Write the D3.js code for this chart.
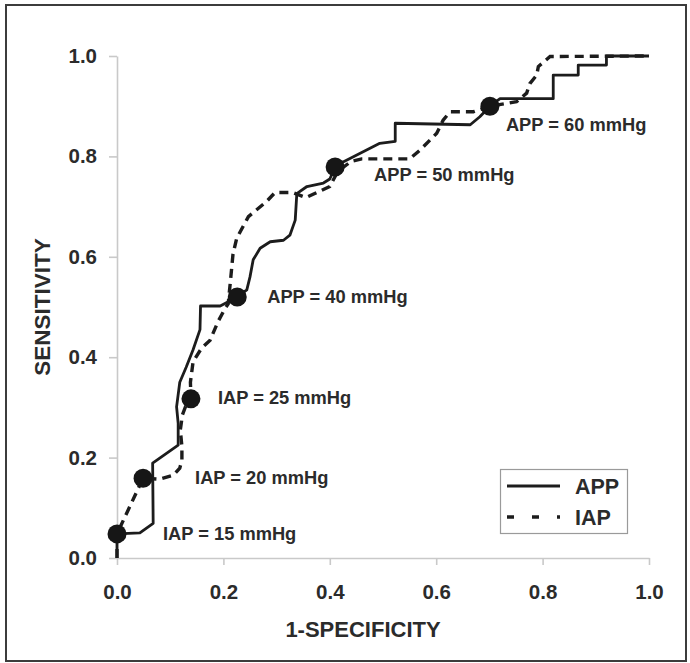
<!DOCTYPE html>
<html>
<head>
<meta charset="utf-8">
<script src="https://cdn.jsdelivr.net/npm/d3@7"></script>
<style>
  html, body { margin: 0; padding: 0; background: #fff; }
  svg { display: block; }
  text { font-family: "Liberation Sans", Arial, Helvetica, sans-serif; fill: #2b2b2b; }
</style>
</head>
<body>
<svg id="chart" width="690" height="663"></svg>
<script>
// ROC curves: 1-specificity (x) vs sensitivity (y)
const appCurve = [
  [0, 0], [0, 0.048], [0.043, 0.05], [0.068, 0.069], [0.067, 0.189],
  [0.115, 0.225], [0.115, 0.268], [0.112, 0.301], [0.118, 0.35],
  [0.13, 0.38], [0.143, 0.415], [0.156, 0.455], [0.157, 0.502],
  [0.194, 0.502], [0.226, 0.52], [0.244, 0.534], [0.25, 0.56],
  [0.256, 0.594], [0.269, 0.617], [0.288, 0.63], [0.313, 0.633],
  [0.325, 0.643], [0.335, 0.673], [0.338, 0.726], [0.357, 0.74],
  [0.388, 0.747], [0.40, 0.755], [0.41, 0.779], [0.425, 0.789],
  [0.494, 0.826], [0.523, 0.83], [0.523, 0.866], [0.664, 0.863],
  [0.682, 0.879], [0.701, 0.9], [0.72, 0.915], [0.82, 0.915],
  [0.82, 0.962], [0.867, 0.962], [0.867, 0.982], [0.92, 0.982],
  [0.92, 1.0], [1.0, 1.0]
];

const iapCurve = [
  [0, 0], [0, 0.048], [0.049, 0.159], [0.08, 0.157], [0.106, 0.165],
  [0.118, 0.179], [0.122, 0.195], [0.122, 0.222], [0.119, 0.255],
  [0.123, 0.285], [0.13, 0.305], [0.139, 0.317], [0.138, 0.35],
  [0.143, 0.391], [0.159, 0.418], [0.175, 0.434], [0.19, 0.471],
  [0.203, 0.497], [0.209, 0.506], [0.214, 0.56], [0.218, 0.605],
  [0.225, 0.637], [0.247, 0.68], [0.281, 0.71], [0.297, 0.728],
  [0.33, 0.728], [0.355, 0.718], [0.40, 0.74], [0.415, 0.77],
  [0.44, 0.79], [0.46, 0.795], [0.55, 0.795], [0.57, 0.813],
  [0.601, 0.846], [0.613, 0.872], [0.626, 0.889], [0.67, 0.889],
  [0.701, 0.9], [0.751, 0.909], [0.77, 0.926], [0.776, 0.945],
  [0.789, 0.962], [0.792, 0.979], [0.814, 0.999], [1.0, 1.0]
];

// Highlighted cut-off points
const cutoffLabels = ["IAP = 15 mmHg", "IAP = 20 mmHg", "IAP = 25 mmHg",
                      "APP = 40 mmHg", "APP = 50 mmHg", "APP = 60 mmHg"];
const cutoffFpr = [0, 0.049, 0.139, 0.226, 0.41, 0.701];
const cutoffTpr = [0.048, 0.159, 0.317, 0.52, 0.779, 0.9];

const tickValues = [0, 0.2, 0.4, 0.6, 0.8, 1.0];
const seriesNames = ["APP", "IAP"];

// Label placement relative to each cut-off marker (px)
const labelShift = [[46, 0], [52, -1], [27, -1], [30, 0], [39, 8], [16, 18]];

const svg = d3.select("#chart");
const W = 690, H = 663;

svg.append("rect").attr("width", W).attr("height", H).attr("fill", "#fff");
svg.append("rect")
  .attr("x", 6).attr("y", 5).attr("width", 680).attr("height", 656)
  .attr("fill", "none").attr("stroke", "#3c3c3c").attr("stroke-width", 2);

const x = d3.scaleLinear().domain([0, 1]).range([117, 649]);
const y = d3.scaleLinear().domain([0, 1]).range([558, 56]);

const fmt = d3.format(".1f");
const axisColor = "#c9c9c9";

const gx = svg.append("g").attr("transform", `translate(0,${y(0)})`)
  .call(d3.axisBottom(x).tickValues(tickValues).tickFormat(fmt)
        .tickSize(7).tickSizeOuter(0).tickPadding(19));
const gy = svg.append("g").attr("transform", `translate(${x(0)},0)`)
  .call(d3.axisLeft(y).tickValues(tickValues).tickFormat(fmt)
        .tickSize(8).tickSizeOuter(0).tickPadding(12));

[gx, gy].forEach(g => {
  g.select(".domain").attr("stroke", axisColor).attr("stroke-width", 1.6);
  g.selectAll(".tick line").attr("stroke", axisColor).attr("stroke-width", 1.6);
  g.selectAll(".tick text")
    .style("font-family", '"Liberation Sans", Arial, sans-serif')
    .style("font-size", "20.5px").style("font-weight", "bold")
    .attr("fill", "#2b2b2b");
});

// Axis titles
svg.append("text")
  .attr("x", 363).attr("y", 637)
  .attr("text-anchor", "middle")
  .style("font-size", "22px").style("font-weight", "bold")
  .text("1-SPECIFICITY");
svg.append("text")
  .attr("transform", "translate(50,307) rotate(-90)")
  .attr("text-anchor", "middle")
  .style("font-size", "22.5px").style("font-weight", "bold")
  .text("SENSITIVITY");

const line = d3.line().x(d => x(d[0])).y(d => y(d[1]));

svg.append("path").datum(iapCurve)
  .attr("d", line).attr("fill", "none")
  .attr("stroke", "#1c1c1c").attr("stroke-width", 3.4)
  .attr("stroke-dasharray", "9,6");

svg.append("path").datum(appCurve)
  .attr("d", line).attr("fill", "none")
  .attr("stroke", "#1c1c1c").attr("stroke-width", 2.8)
  .attr("stroke-linejoin", "round");

// Cut-off markers and their labels
const cut = svg.append("g").selectAll("g")
  .data(cutoffLabels.map((t, i) => ({ t, fx: cutoffFpr[i], ty: cutoffTpr[i], s: labelShift[i] })))
  .join("g");

cut.append("circle")
  .attr("cx", d => x(d.fx)).attr("cy", d => y(d.ty))
  .attr("r", 9.5).attr("fill", "#161616");

cut.append("text")
  .attr("x", d => x(d.fx) + d.s[0]).attr("y", d => y(d.ty) + d.s[1])
  .attr("dy", "0.35em")
  .style("font-size", "18.3px").style("font-weight", "bold")
  .text(d => d.t);

// Legend
const lg = svg.append("g");
lg.append("rect")
  .attr("x", 500.5).attr("y", 469.5).attr("width", 127).attr("height", 64)
  .attr("fill", "#fff").attr("stroke", "#9a9a9a").attr("stroke-width", 1.2);

const legendRows = [486, 517];
seriesNames.forEach((name, i) => {
  const ly = legendRows[i];
  lg.append("line")
    .attr("x1", 507).attr("x2", 560).attr("y1", ly).attr("y2", ly)
    .attr("stroke", "#1c1c1c")
    .attr("stroke-width", i === 0 ? 2.8 : 3.6)
    .attr("stroke-dasharray", i === 0 ? null : "7,18");
  lg.append("text")
    .attr("x", 575).attr("y", ly).attr("dy", "0.36em")
    .style("font-size", "21.5px").style("font-weight", "bold")
    .text(name);
});
</script>
</body>
</html>
